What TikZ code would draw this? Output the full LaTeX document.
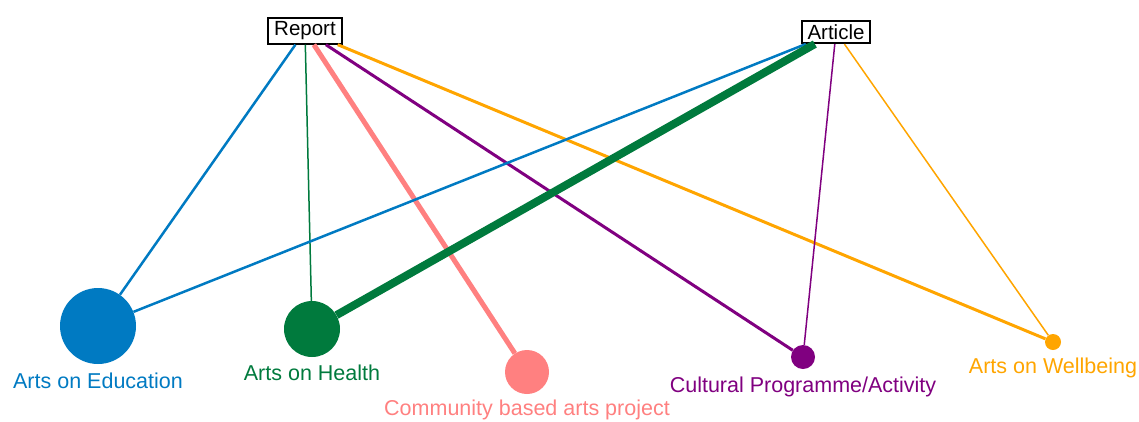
\documentclass[tikz,border=0pt]{standalone}
\usepackage{fontspec}
\setmainfont{Liberation Sans}
\usetikzlibrary{positioning}

\definecolor{edublue}{RGB}{0,122,194}
\definecolor{healthgreen}{RGB}{0,122,61}
\definecolor{commpink}{RGB}{255,128,128}
\definecolor{cultpurple}{RGB}{128,0,128}
\definecolor{wellorange}{RGB}{255,165,0}

\begin{document}
\begin{tikzpicture}[
    x=1pt, y=-1pt,
    doctype/.style={draw, line width=2pt, rectangle, inner xsep=6pt, inner ysep=3.5pt, font=\fontsize{20.5}{22}\selectfont},
    topic/.style={circle, fill=#1, inner sep=0pt},
    topiclabel/.style={text=#1, font=\fontsize{21.5}{24}\selectfont},
    link/.style={draw=#1}
]
\useasboundingbox (0,0) rectangle (1139,421);

% Document types
\node[doctype] (report) at (305,31) {Report};
\node[doctype] (article) at (836,32) {Article};

% Topics
\node[topic=edublue, minimum size=76pt] (edu) at (98,326) {};
\node[topic=healthgreen, minimum size=56pt] (health) at (312,329) {};
\node[topic=commpink, minimum size=44pt] (comm) at (527,372) {};
\node[topic=cultpurple, minimum size=24pt] (cult) at (803,357) {};
\node[topic=wellorange, minimum size=16pt] (well) at (1053,342) {};

% Topic labels
\node[topiclabel=edublue] (edulabel) at (98,381) {Arts on Education};
\node[topiclabel=healthgreen] (healthlabel) at (312,373) {Arts on Health};
\node[topiclabel=commpink] (commlabel) at (527,410) {Community based arts project};
\node[topiclabel=cultpurple] (cultlabel) at (803,387) {Cultural Programme/Activity};
\node[topiclabel=wellorange] (welllabel) at (1053,368) {Arts on Wellbeing};

% Links from Report
\draw[link=edublue, line width=2.5pt] (report) -- (edu);
\draw[link=healthgreen, line width=1.5pt] (report) -- (health);
\draw[link=commpink, line width=5pt] (report) -- (comm);
\draw[link=cultpurple, line width=3pt] (report) -- (cult);
\draw[link=wellorange, line width=3pt] (report) -- (well);

% Links from Article
\draw[link=edublue, line width=2.5pt] (article) -- (edu);
\draw[link=healthgreen, line width=8pt] (article) -- (health);
\draw[link=cultpurple, line width=1.5pt] (article) -- (cult);
\draw[link=wellorange, line width=1.5pt] (article) -- (well);

\end{tikzpicture}
\end{document}
